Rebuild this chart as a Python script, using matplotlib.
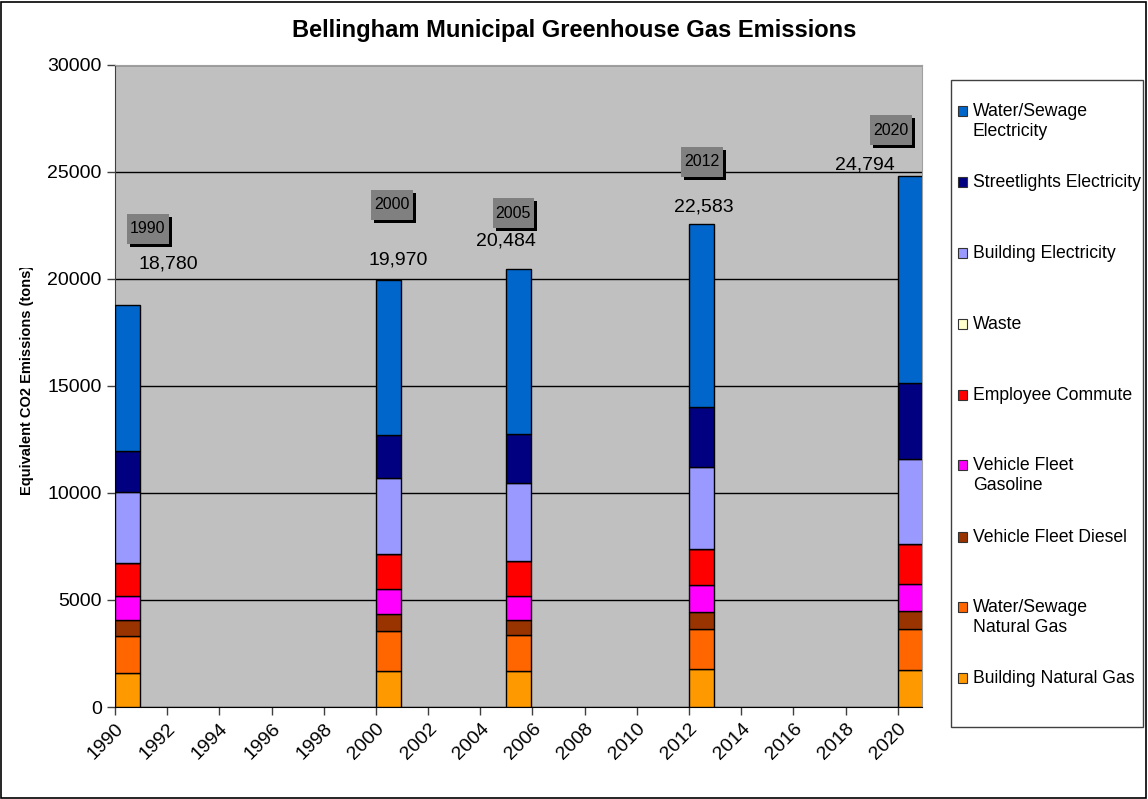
import matplotlib
matplotlib.use('Agg')
import matplotlib.pyplot as plt
import matplotlib.patheffects as pe
from matplotlib.patches import Rectangle
from matplotlib.path import Path

plt.rcParams['font.family'] = ['Liberation Sans', 'DejaVu Sans']

# data (tons CO2e)
years = [1990, 2000, 2005, 2012, 2020]
building_nat_gas = [1600, 1700, 1680, 1760, 1710]
water_nat_gas = [1720, 1850, 1680, 1870, 1930]
fleet_diesel = [750, 800, 720, 820, 860]
fleet_gasoline = [1120, 1150, 1110, 1250, 1260]
employee_commute = [1520, 1630, 1630, 1700, 1860]
waste = [0, 0, 0, 0, 0]
building_elec = [3340, 3590, 3630, 3830, 3980]
streetlights_elec = [1930, 1990, 2290, 2800, 3550]
water_elec = [6800, 7260, 7744, 8553, 9644]

series_names = ['Building Natural Gas', 'Water/Sewage\nNatural Gas', 'Vehicle Fleet Diesel',
                'Vehicle Fleet\nGasoline', 'Employee Commute', 'Waste', 'Building Electricity',
                'Streetlights Electricity', 'Water/Sewage\nElectricity']
series_vals = [building_nat_gas, water_nat_gas, fleet_diesel, fleet_gasoline, employee_commute,
               waste, building_elec, streetlights_elec, water_elec]
colors = ['#FF9900', '#FF6600', '#993300', '#FF00FF', '#FF0000',
          '#FFFFCC', '#9999FF', '#000080', '#0066CC']

# where Excel had the labels dragged to (data coords)
year_box_pos = [(1991.26, 22340), (2000.61, 23460), (2005.27, 23080), (2012.49, 25470), (2019.73, 26960)]
total_pos = [(1992.03, 20700), (2000.84, 20890), (2005.0, 21780), (2012.57, 23360), (2018.74, 25330)]

W, H = 1148, 799
fig = plt.figure(figsize=(W / 100, H / 100), dpi=100)
fig.patch.set_facecolor('white')

def fx(px):
    return px / W

def fy(py):
    return 1 - py / H

def tall_box(x0, y0, width, height, mutation_size):
    # excel-ish label box: little side padding, more on top/bottom
    padx = 0.2 * mutation_size
    pady = 0.48 * mutation_size
    x0, y0 = x0 - padx, y0 - pady
    x1, y1 = x0 + width + 2 * padx, y0 + height + 2 * pady
    return Path([(x0, y0), (x1, y0), (x1, y1), (x0, y1), (x0, y0)], closed=True)

ax = fig.add_axes([fx(115), fy(707), fx(922) - fx(115), fy(65) - fy(707)])
ax.set_facecolor('#C0C0C0')

bottoms = [0] * len(years)
for name, vals, c in zip(series_names, series_vals, colors):
    ax.bar(years, vals, width=0.95, bottom=bottoms, align='edge', color=c,
           edgecolor='black', linewidth=1, zorder=3)
    bottoms = [b + v for b, v in zip(bottoms, vals)]

ax.set_xlim(1990, 2020.93)
ax.set_ylim(0, 30000)
ax.set_yticks(range(0, 30001, 5000))
ax.set_xticks(range(1990, 2021, 2))
ax.yaxis.grid(True, color='black', linewidth=1)
ax.set_axisbelow(True)
ax.tick_params(axis='both', labelsize=14, length=6, width=1, color='#404040', direction='out')
for lbl in ax.get_xticklabels():
    lbl.set_rotation(45)
    lbl.set_ha('right')
    lbl.set_rotation_mode('anchor')
for s in ['top', 'right']:
    ax.spines[s].set_color('#A0A0A0')
ax.spines['left'].set_color('#404040')
ax.spines['bottom'].set_color('black')

# labels: year boxes with shadow, and totals
for yr, tot, bp, tp in zip(years, bottoms, year_box_pos, total_pos):
    t = ax.text(bp[0], bp[1], str(yr), fontsize=11.5, ha='center', va='center', zorder=5,
                bbox=dict(boxstyle=tall_box, fc='#808080', ec='none'))
    t.get_bbox_patch().set_path_effects([pe.SimplePatchShadow(offset=(2.2, -2.2), shadow_rgbFace='black', alpha=1),
                                         pe.Normal()])
    ax.text(tp[0], tp[1], f'{tot:,}', fontsize=14, ha='center', va='center', zorder=5)

fig.text(0.5, fy(30), 'Bellingham Municipal Greenhouse Gas Emissions', fontsize=17,
         fontweight='bold', ha='center', va='center')

# axis title is cut off at the top in the original
fig.text(fx(27), fy(495), 'Equivalent CO2 Emissions (tons)', fontsize=10.5, fontweight='bold',
         rotation=90, ha='center', va='bottom')
fig.add_artist(Rectangle((fx(10), fy(268)), fx(35), fy(150) - fy(268), transform=fig.transFigure,
                         facecolor='white', edgecolor='none', zorder=10))

# legend box, drawn the way Excel spaced it
fig.add_artist(Rectangle((fx(951), fy(727)), fx(1143) - fx(951), fy(80) - fy(727),
                         transform=fig.transFigure, fill=False, edgecolor='#404040', linewidth=1))
leg_first_line = [111, 182, 253, 324, 395, 465, 537, 607, 678]
for name, c, yl in zip(series_names[::-1], colors[::-1], leg_first_line):
    fig.add_artist(Rectangle((fx(958), fy(yl + 5)), fx(9), fy(0) - fy(10),
                             transform=fig.transFigure, facecolor=c, edgecolor='#333333', linewidth=0.8))
    fig.text(fx(973), fy(yl - 8), name, fontsize=12.7, ha='left', va='top', linespacing=1.2)

fig.add_artist(Rectangle((0.001, 0.001), 0.997, 0.997, transform=fig.transFigure,
                         fill=False, edgecolor='black', linewidth=1.2))

fig.savefig('out.png', dpi=100)
